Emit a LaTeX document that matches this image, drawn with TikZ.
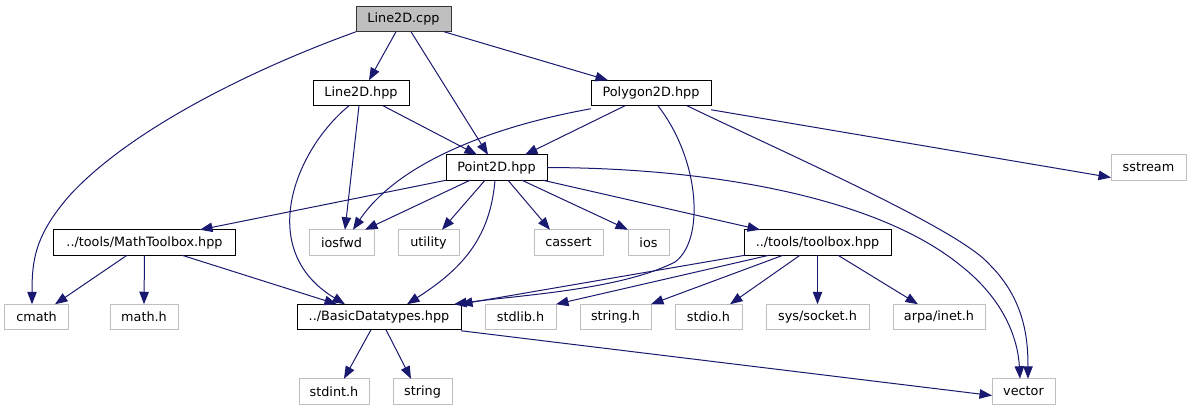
\documentclass[tikz,border=0pt]{standalone}
\usepackage{fontspec}
\setmainfont{DejaVu Sans}
\usetikzlibrary{arrows.meta}
\definecolor{edgec}{HTML}{191970}
\definecolor{sysgray}{HTML}{BFBFBF}
\begin{document}
\begin{tikzpicture}[x=1bp,y=-1bp,
  box/.style={draw, line width=1bp, minimum height=25.5bp, inner sep=0pt, outer sep=0pt, font=\fontsize{12.8bp}{15bp}\selectfont, anchor=center},
  doc/.style={box, draw=black},
  sys/.style={box, draw=sysgray},
  cur/.style={box, draw=black!80, fill=sysgray},
  dep/.style={draw=edgec, line width=1bp, -{Triangle[length=12.5bp,width=9.5bp]}}
]
\useasboundingbox[fill=white] (0,0) rectangle (1191,411);

% row 1
\node[cur, minimum width=95bp] (cpp) at (403.5,19) {Line2D.cpp};
% row 2
\node[doc, minimum width=96bp] (l2h) at (361,93) {Line2D.hpp};
\node[doc, minimum width=120bp] (poly) at (651,93) {Polygon2D.hpp};
% row 3
\node[doc, minimum width=101bp] (pt) at (496.5,167.5) {Point2D.hpp};
\node[sys, minimum width=75bp] (sstream) at (1148.5,167.5) {sstream};
% row 4
\node[doc, minimum width=181bp] (math) at (144.5,242.5) {../tools/MathToolbox.hpp};
\node[sys, minimum width=65bp] (iosfwd) at (341.5,242.5) {iosfwd};
\node[sys, minimum width=61bp] (utility) at (428.5,242.5) {utility};
\node[sys, minimum width=69bp] (cassert) at (568.5,242.5) {cassert};
\node[sys, minimum width=41bp] (ios) at (648.5,242.5) {ios};
\node[doc, minimum width=147bp] (tool) at (817.5,242.5) {../tools/toolbox.hpp};
% row 5
\node[sys, minimum width=63bp] (cmath) at (36.5,317) {cmath};
\node[sys, minimum width=68bp] (mathh) at (144,317) {math.h};
\node[doc, minimum width=164bp] (basic) at (379,317) {../BasicDatatypes.hpp};
\node[sys, minimum width=71bp] (stdlib) at (520.5,317) {stdlib.h};
\node[sys, minimum width=71bp] (stringh) at (615.5,317) {string.h};
\node[sys, minimum width=67bp] (stdio) at (708.5,317) {stdio.h};
\node[sys, minimum width=103bp] (socket) at (817.5,317) {sys/socket.h};
\node[sys, minimum width=92bp] (inet) at (939,317) {arpa/inet.h};
% row 6
\node[sys, minimum width=70bp] (stdint) at (334,391.5) {stdint.h};
\node[sys, minimum width=59bp] (string) at (422.5,391.5) {string};
\node[sys, minimum width=63bp] (vector) at (1023.5,391.5) {vector};

% Line2D.cpp
\draw[dep] (cpp.south west) .. controls (250,70) and (130,130) .. (70,195)
  .. controls (35,235) and (32,260) .. ([xshift=-4.5bp]cmath.north);
\draw[dep] ([xshift=-7.5bp]cpp.south) -- ([xshift=8bp]l2h.north);
\draw[dep] ([xshift=7.5bp]cpp.south) -- ([xshift=-8.5bp]pt.north);
\draw[dep] ([xshift=40.5bp]cpp.south) -- ([xshift=-43bp]poly.north);

% Line2D.hpp
\draw[dep] ([xshift=22bp]l2h.south) -- ([xshift=-19.5bp]pt.north);
\draw[dep] ([xshift=-2bp]l2h.south) -- ([xshift=3.5bp]iosfwd.north);
\draw[dep] ([xshift=-12bp]l2h.south) .. controls (295,150) and (255,250) .. ([xshift=-34bp]basic.north);

% Polygon2D.hpp
\draw[dep] ([xshift=-26bp]poly.south) -- ([xshift=28.5bp]pt.north);
\draw[dep] ([yshift=-3bp]poly.south west) .. controls (500,125) and (400,160) .. ([xshift=11.5bp]iosfwd.north);
\draw[dep] ([xshift=7bp]poly.south) .. controls (700,160) and (705,240) .. (675,262)
  .. controls (620,290) and (520,295) .. ([xshift=-7bp]basic.north east);
\draw[dep] ([yshift=-4bp]poly.south east) -- ([yshift=-10bp]sstream.west);
\draw[dep] ([xshift=36bp]poly.south) .. controls (800,160) and (960,230) .. (990,265)
  .. controls (1025,300) and (1028,340) .. ([xshift=4.5bp]vector.north);

% Point2D.hpp
\draw[dep] (pt.south west) -- ([xshift=55.5bp]math.north);
\draw[dep] ([xshift=-26.5bp]pt.south) -- ([xshift=23.5bp]iosfwd.north);
\draw[dep] ([xshift=-11.5bp]pt.south) -- ([xshift=13.5bp]utility.north);
\draw[dep] ([xshift=-1.5bp]pt.south) .. controls (490,240) and (460,270) .. ([xshift=28bp]basic.north);
\draw[dep] ([xshift=11.5bp]pt.south) -- ([xshift=-18.5bp]cassert.north);
\draw[dep] ([xshift=25.5bp]pt.south) -- (ios.north west);
\draw[dep] ([xshift=-4bp]pt.south east) -- ([xshift=-57.5bp]tool.north);
\draw[dep] (pt.east) .. controls (720,168) and (880,200) .. (960,265)
  .. controls (1005,300) and (1018,340) .. ([xshift=-3.5bp]vector.north);

% MathToolbox.hpp
\draw[dep] ([xshift=-17.5bp]math.south) -- ([xshift=18.5bp]cmath.north);
\draw[dep] (math.south) -- (mathh.north);
\draw[dep] ([xshift=37.5bp]math.south) -- ([xshift=-42bp]basic.north);

% toolbox.hpp
\draw[dep] ([xshift=1bp]tool.south west) -- ([xshift=-1bp]basic.north east);
\draw[dep] ([xshift=-48.5bp]tool.south) -- (stdlib.north east);
\draw[dep] ([xshift=-34.5bp]tool.south) -- (stringh.north east);
\draw[dep] ([xshift=-17.5bp]tool.south) -- ([xshift=21.5bp]stdio.north);
\draw[dep] (tool.south) -- (socket.north);
\draw[dep] ([xshift=20.5bp]tool.south) -- ([xshift=-21bp]inet.north);

% BasicDatatypes.hpp
\draw[dep] ([xshift=-8bp]basic.south) -- ([xshift=10bp]stdint.north);
\draw[dep] ([xshift=7bp]basic.south) -- ([xshift=-11.5bp]string.north);
\draw[dep] ([yshift=-1bp]basic.south east) -- ([yshift=-4bp]vector.west);
\end{tikzpicture}
\end{document}
